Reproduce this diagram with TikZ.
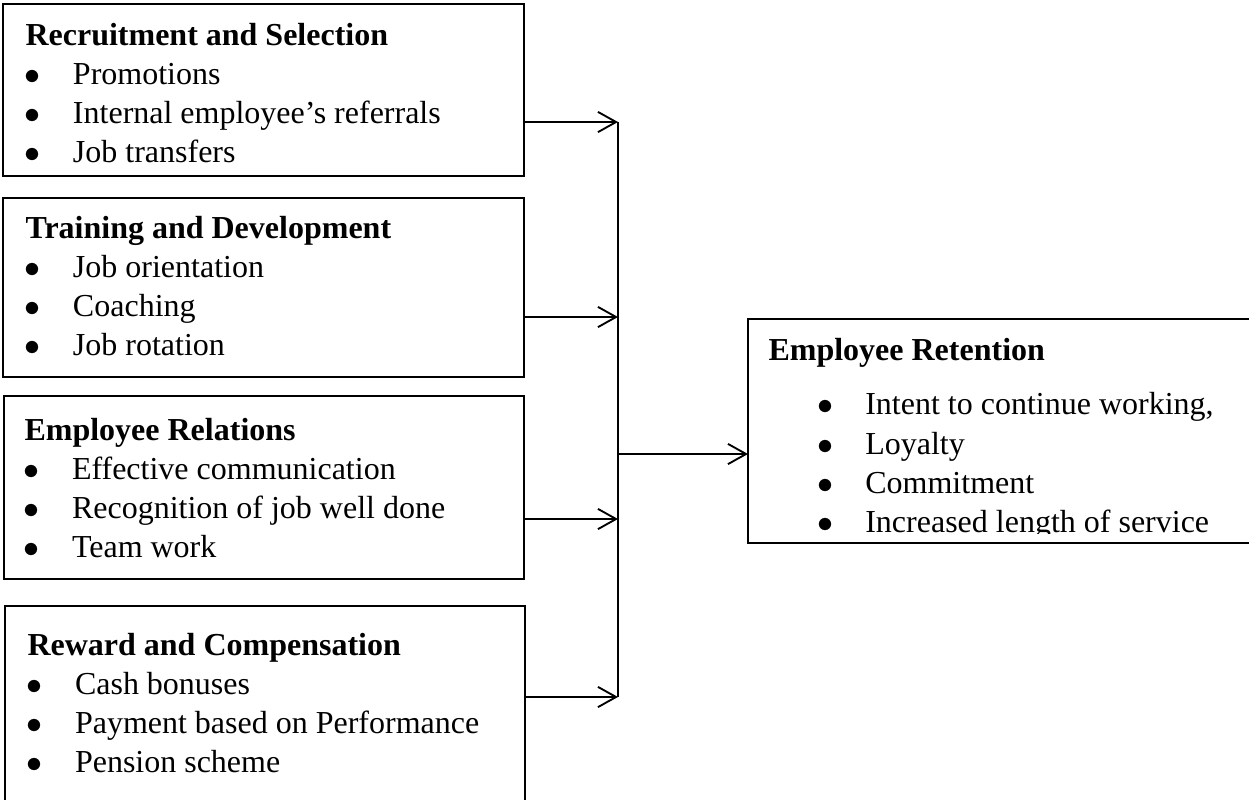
\documentclass[tikz,border=0pt]{standalone}
\usepackage{fontspec}
\setmainfont{Liberation Serif}
\usetikzlibrary{arrows.meta}
\tikzset{
    box/.style={
           rectangle,
           draw=black, line width=0.8pt,
           inner sep=0pt, outer sep=0pt,
           anchor=north west,
           },
}
\tikzset{
    txt/.style={
           anchor=base west,
           inner sep=0pt,
           font=\fontsize{12pt}{14.7pt}\selectfont,
           },
}
\tikzset{
    link/.style={
           draw=black, line width=0.7pt,
           -{Straight Barb[length=6.8pt,width=7.6pt]},
           },
}
\newcommand{\itm}[1]{\makebox[17.8pt][l]{\hspace*{-0.3pt}$\bullet$}#1}

\begin{document}
\begin{tikzpicture}[x=0.375pt,y=-0.375pt]
\useasboundingbox (0,0) rectangle (1249,799);
\clip (0,0) rectangle (1249,799);
% the four boxes on the left
\node[box,minimum width=521*0.375pt,minimum height=172*0.375pt] (rs) at (3,4) {};
\node[box,minimum width=521*0.375pt,minimum height=179*0.375pt] (td) at (3,198) {};
\node[box,minimum width=520*0.375pt,minimum height=183*0.375pt] (er) at (4,396) {};
\node[box,minimum width=520*0.375pt,minimum height=224*0.375pt] (rc) at (5,606) {};
% outcome box
\node[box,minimum width=527*0.375pt,minimum height=224*0.375pt] (ret) at (748,319) {};

\node[txt] (rstxt) at (25,45) {\begin{tabular}[t]{@{}l@{}}
\textbf{Recruitment and Selection}\\
\itm{Promotions}\\
\itm{Internal employee’s referrals}\\
\itm{Job transfers}
\end{tabular}};
\node[txt] (tdtxt) at (25,238) {\begin{tabular}[t]{@{}l@{}}
\textbf{Training and Development}\\
\itm{Job orientation}\\
\itm{Coaching}\\
\itm{Job rotation}
\end{tabular}};
\node[txt] (ertxt) at (24,440) {\begin{tabular}[t]{@{}l@{}}
\textbf{Employee Relations}\\
\itm{Effective communication}\\
\itm{Recognition of job well done}\\
\itm{Team work}
\end{tabular}};
\node[txt] (rctxt) at (27,655) {\begin{tabular}[t]{@{}l@{}}
\textbf{Reward and Compensation}\\
\itm{Cash bonuses}\\
\itm{Payment based on Performance}\\
\itm{Pension scheme}
\end{tabular}};
\begin{scope}
\clip (748,319) rectangle (1249,533);
\node[txt] (rettxt) at (768,360) {\begin{tabular}[t]{@{}l@{}}
\textbf{Employee Retention}\\[5.9pt]
\hspace*{18.5pt}\itm{Intent to continue working,}\\
\hspace*{18.5pt}\itm{Loyalty}\\
\hspace*{18.5pt}\itm{Commitment}\\
\hspace*{18.5pt}\itm{Increased length of service}
\end{tabular}};
\end{scope}

% connectors
\coordinate (j1) at (618,122);
\coordinate (j2) at (618,317);
\coordinate (j3) at (618,519);
\coordinate (j4) at (618,697);
\coordinate (jm) at (618,454);
\draw[line width=0.7pt] (j1) -- (j4);
\path (rs.east |- j1) edge[link] (j1);
\path (td.east |- j2) edge[link] (j2);
\path (er.east |- j3) edge[link] (j3);
\path (rc.east |- j4) edge[link] (j4);
\path (jm) edge[link] (ret.west |- jm);
\end{tikzpicture}
\end{document}
